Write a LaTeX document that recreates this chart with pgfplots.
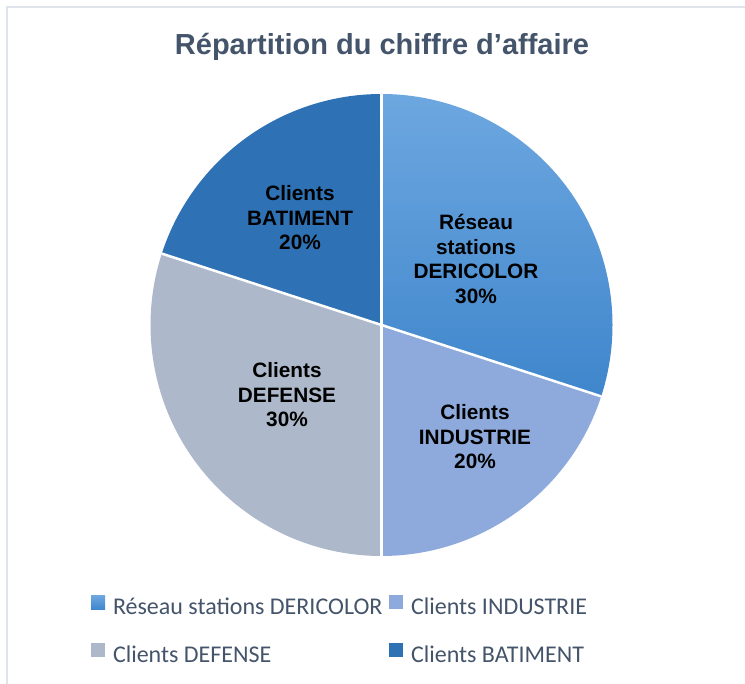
\documentclass[border=0pt]{standalone}
\usepackage{pgfplots}
\pgfplotsset{compat=1.18}
\usepackage{fontspec}
\setmainfont{Liberation Sans}
\newfontfamily\calibri{Carlito}
\definecolor{titlec}{HTML}{44546A}
\definecolor{legc}{HTML}{44546A}
\definecolor{framec}{HTML}{DFE4EA}
\definecolor{resTop}{HTML}{6DA7E0}
\definecolor{resBot}{HTML}{3F86CC}
\definecolor{ind}{HTML}{8EAADC}
\definecolor{def}{HTML}{ADB9CA}
\definecolor{bat}{HTML}{2E72B5}
\tikzset{
  sliceA/.style={top color=resTop, bottom color=resBot, draw=none},
  sliceB/.style={fill=ind, draw=none},
  sliceC/.style={fill=def, draw=none},
  sliceD/.style={fill=bat, draw=none},
}
\begin{document}
\begin{tikzpicture}
\begin{axis}[
  scale only axis, width=745bp, height=684bp,
  xmin=0, xmax=745, ymin=-684, ymax=0,
  hide axis, clip=false,
  legend columns=2,
  legend cell align=left,
  legend image code/.code={\path[#1] (0bp,-0.5bp) rectangle (14bp,13.5bp);},
  legend style={draw=none, fill=none, inner sep=0pt, outer sep=0pt,
    at={(axis cs:91,-631.5)}, anchor=west,
    font=\calibri\fontsize{24bp}{28bp}\selectfont, text=legc,
    nodes={inner sep=0pt, text height=17bp, text depth=5bp},
    row sep=23bp,
    /tikz/every odd column/.append style={column sep=8bp},
    /tikz/every even column/.append style={column sep=6.5bp}},
]
\coordinate (c) at (axis cs:381.5,-325);
\addlegendimage{sliceA}
\addlegendentry{Réseau stations DERICOLOR}
\addlegendimage{sliceB}
\addlegendentry{Clients INDUSTRIE}
\addlegendimage{sliceC}
\addlegendentry{Clients DEFENSE}
\addlegendimage{sliceD}
\addlegendentry{Clients BATIMENT}
\node[font=\bfseries\fontsize{29bp}{34bp}\selectfont, text=titlec, anchor=base] at (axis cs:382,-55) {Répartition du chiffre d’affaire};
\end{axis}
% pie slices from the values (percent)
\foreach \v/\sty [remember=\e as \s (initially 90), evaluate=\v as \e using {\s-3.6*\v}] in {30/sliceA,20/sliceB,30/sliceC,20/sliceD}{
  \path[\sty] (c) -- ++(\s:231bp) arc[start angle=\s, end angle=\e, radius=231bp] -- cycle;
}
\foreach \v [remember=\e as \s (initially 90), evaluate=\v as \e using {\s-3.6*\v}] in {30,20,30,20}{
  \draw[white, line width=2.5bp] (c) -- ++(\s:231bp);
}
\begin{scope}[every node/.style={align=center, font=\bfseries\fontsize{20.8bp}{24.5bp}\selectfont, text=black}]
\node at (476bp,{684bp-259bp}) {Réseau\\stations\\DERICOLOR\\30\%};
\node at (475bp,{684bp-437bp}) {Clients\\INDUSTRIE\\20\%};
\node at (287bp,{684bp-395bp}) {Clients\\DEFENSE\\30\%};
\node at (300bp,{684bp-218bp}) {Clients\\BATIMENT\\20\%};
\end{scope}
\draw[framec, line width=2bp] (7bp,-10bp) -- (7bp,677bp) -- (760bp,677bp);
\pgfresetboundingbox
\path (0,0) rectangle (745bp,684bp);
\end{tikzpicture}
\end{document}
